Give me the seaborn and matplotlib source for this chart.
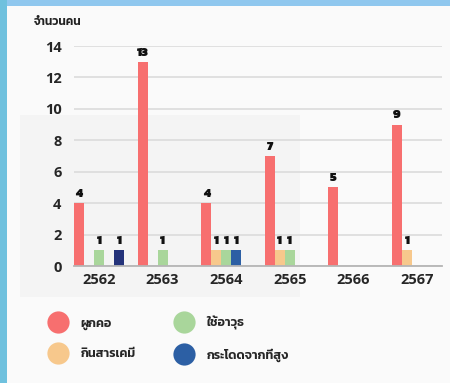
import matplotlib
matplotlib.use("Agg")
import matplotlib.pyplot as plt
from matplotlib.patches import Rectangle
from matplotlib.lines import Line2D
import seaborn as sns
import pandas as pd

# Data: number of people per year, by method
years = ["2562", "2563", "2564", "2565", "2566", "2567"]
methods = ["ผูกคอ", "กินสารเคมี", "ใช้อาวุธ", "กระโดดจากที่สูง", "อื่น ๆ"]
hanging = [4, 13, 4, 7, 5, 9]
chemicals = [0, 0, 1, 1, 0, 1]
weapons = [1, 1, 1, 1, 0, 0]
jumping = [0, 0, 1, 0, 0, 0]
other = [1, 0, 0, 0, 0, 0]
y_ticks = [0, 2, 4, 6, 8, 10, 12, 14]
y_title = "จำนวนคน"

colors = ["#f76f6f", "#f7c88c", "#a9d69b", "#2c5fa4", "#24337a"]

series = [hanging, chemicals, weapons, jumping, other]
rows = []
for m, vals in zip(methods, series):
    for y, v in zip(years, vals):
        rows.append({"year": y, "method": m, "count": v})
df = pd.DataFrame(rows)

sns.set_theme(style="white")
plt.rcParams["font.family"] = ["Kanit", "DejaVu Sans"]

fig = plt.figure(figsize=(4.5, 3.83), dpi=100, facecolor="#8fc7ee")
W, H = 450, 383

def fx(px):
    return px / W

def fy(py):
    return 1 - py / H

# white card with a blue frame on the top and left
fig.patches.append(Rectangle((fx(7), 0), 1 - fx(7), fy(6), transform=fig.transFigure,
                             facecolor="#fafafa", edgecolor="none", zorder=-3))
fig.patches.append(Rectangle((0, 0), fx(7), 1, transform=fig.transFigure,
                             facecolor="#6fc1de", edgecolor="none", zorder=-3))
# faint shaded block behind the lower chart area
fig.patches.append(Rectangle((fx(20), fy(297)), fx(280), fy(115) - fy(297),
                             transform=fig.transFigure, facecolor="#f4f4f4",
                             edgecolor="none", zorder=-2))

ax = fig.add_axes([fx(74), fy(266), fx(442) - fx(74), fy(46) - fy(266)])
ax.set_facecolor("none")

sns.barplot(data=df, x="year", y="count", hue="method", hue_order=methods,
            order=years, palette=colors, saturation=1, width=0.786, gap=0,
            linewidth=0, errorbar=None, ax=ax, legend=False)

tick_font = dict(fontsize=10.5, fontweight="bold", color="#262626",
                 family=["Open Sans", "DejaVu Sans"])
ax.set_xlim(-0.393, 5.393)
ax.set_ylim(0, 14)
ax.set_yticks(y_ticks, labels=[str(v) for v in y_ticks], **tick_font)
ax.set_xticks(range(len(years)), labels=years, **tick_font)
ax.set_xlabel("")
ax.set_ylabel("")
ax.grid(axis="y", color="#d9d9d9", linewidth=1.1)
ax.set_axisbelow(True)
for s in ["top", "right", "left"]:
    ax.spines[s].set_visible(False)
ax.spines["bottom"].set_color("#b5b5b5")
ax.spines["bottom"].set_linewidth(1.3)
ax.tick_params(axis="both", length=0)
ax.tick_params(axis="y", pad=9)
ax.tick_params(axis="x", pad=5)

for cont in ax.containers:
    labels = [f"{int(b.get_height())}" if b.get_height() > 0 else "" for b in cont]
    ax.bar_label(cont, labels=labels, padding=3, fontsize=9, fontweight="black",
                 color="#111111", family=["Kanit", "DejaVu Sans"], clip_on=False)

fig.text(fx(34), fy(22), y_title, fontsize=8.5, fontweight="semibold",
         color="#222222", va="center", ha="left")

handles = [Line2D([], [], marker="o", linestyle="none", markersize=16,
                  markerfacecolor=c, markeredgecolor="none")
           for c in colors[:4]]
fig.legend(handles, methods[:4], ncol=2, loc="upper left",
           bbox_to_anchor=(fx(39), fy(310)), frameon=False,
           prop={"size": 9, "weight": "semibold"}, handletextpad=0.8,
           columnspacing=2.9, labelspacing=1.45, borderpad=0)

fig.savefig("out.png", dpi=100, facecolor=fig.get_facecolor())
